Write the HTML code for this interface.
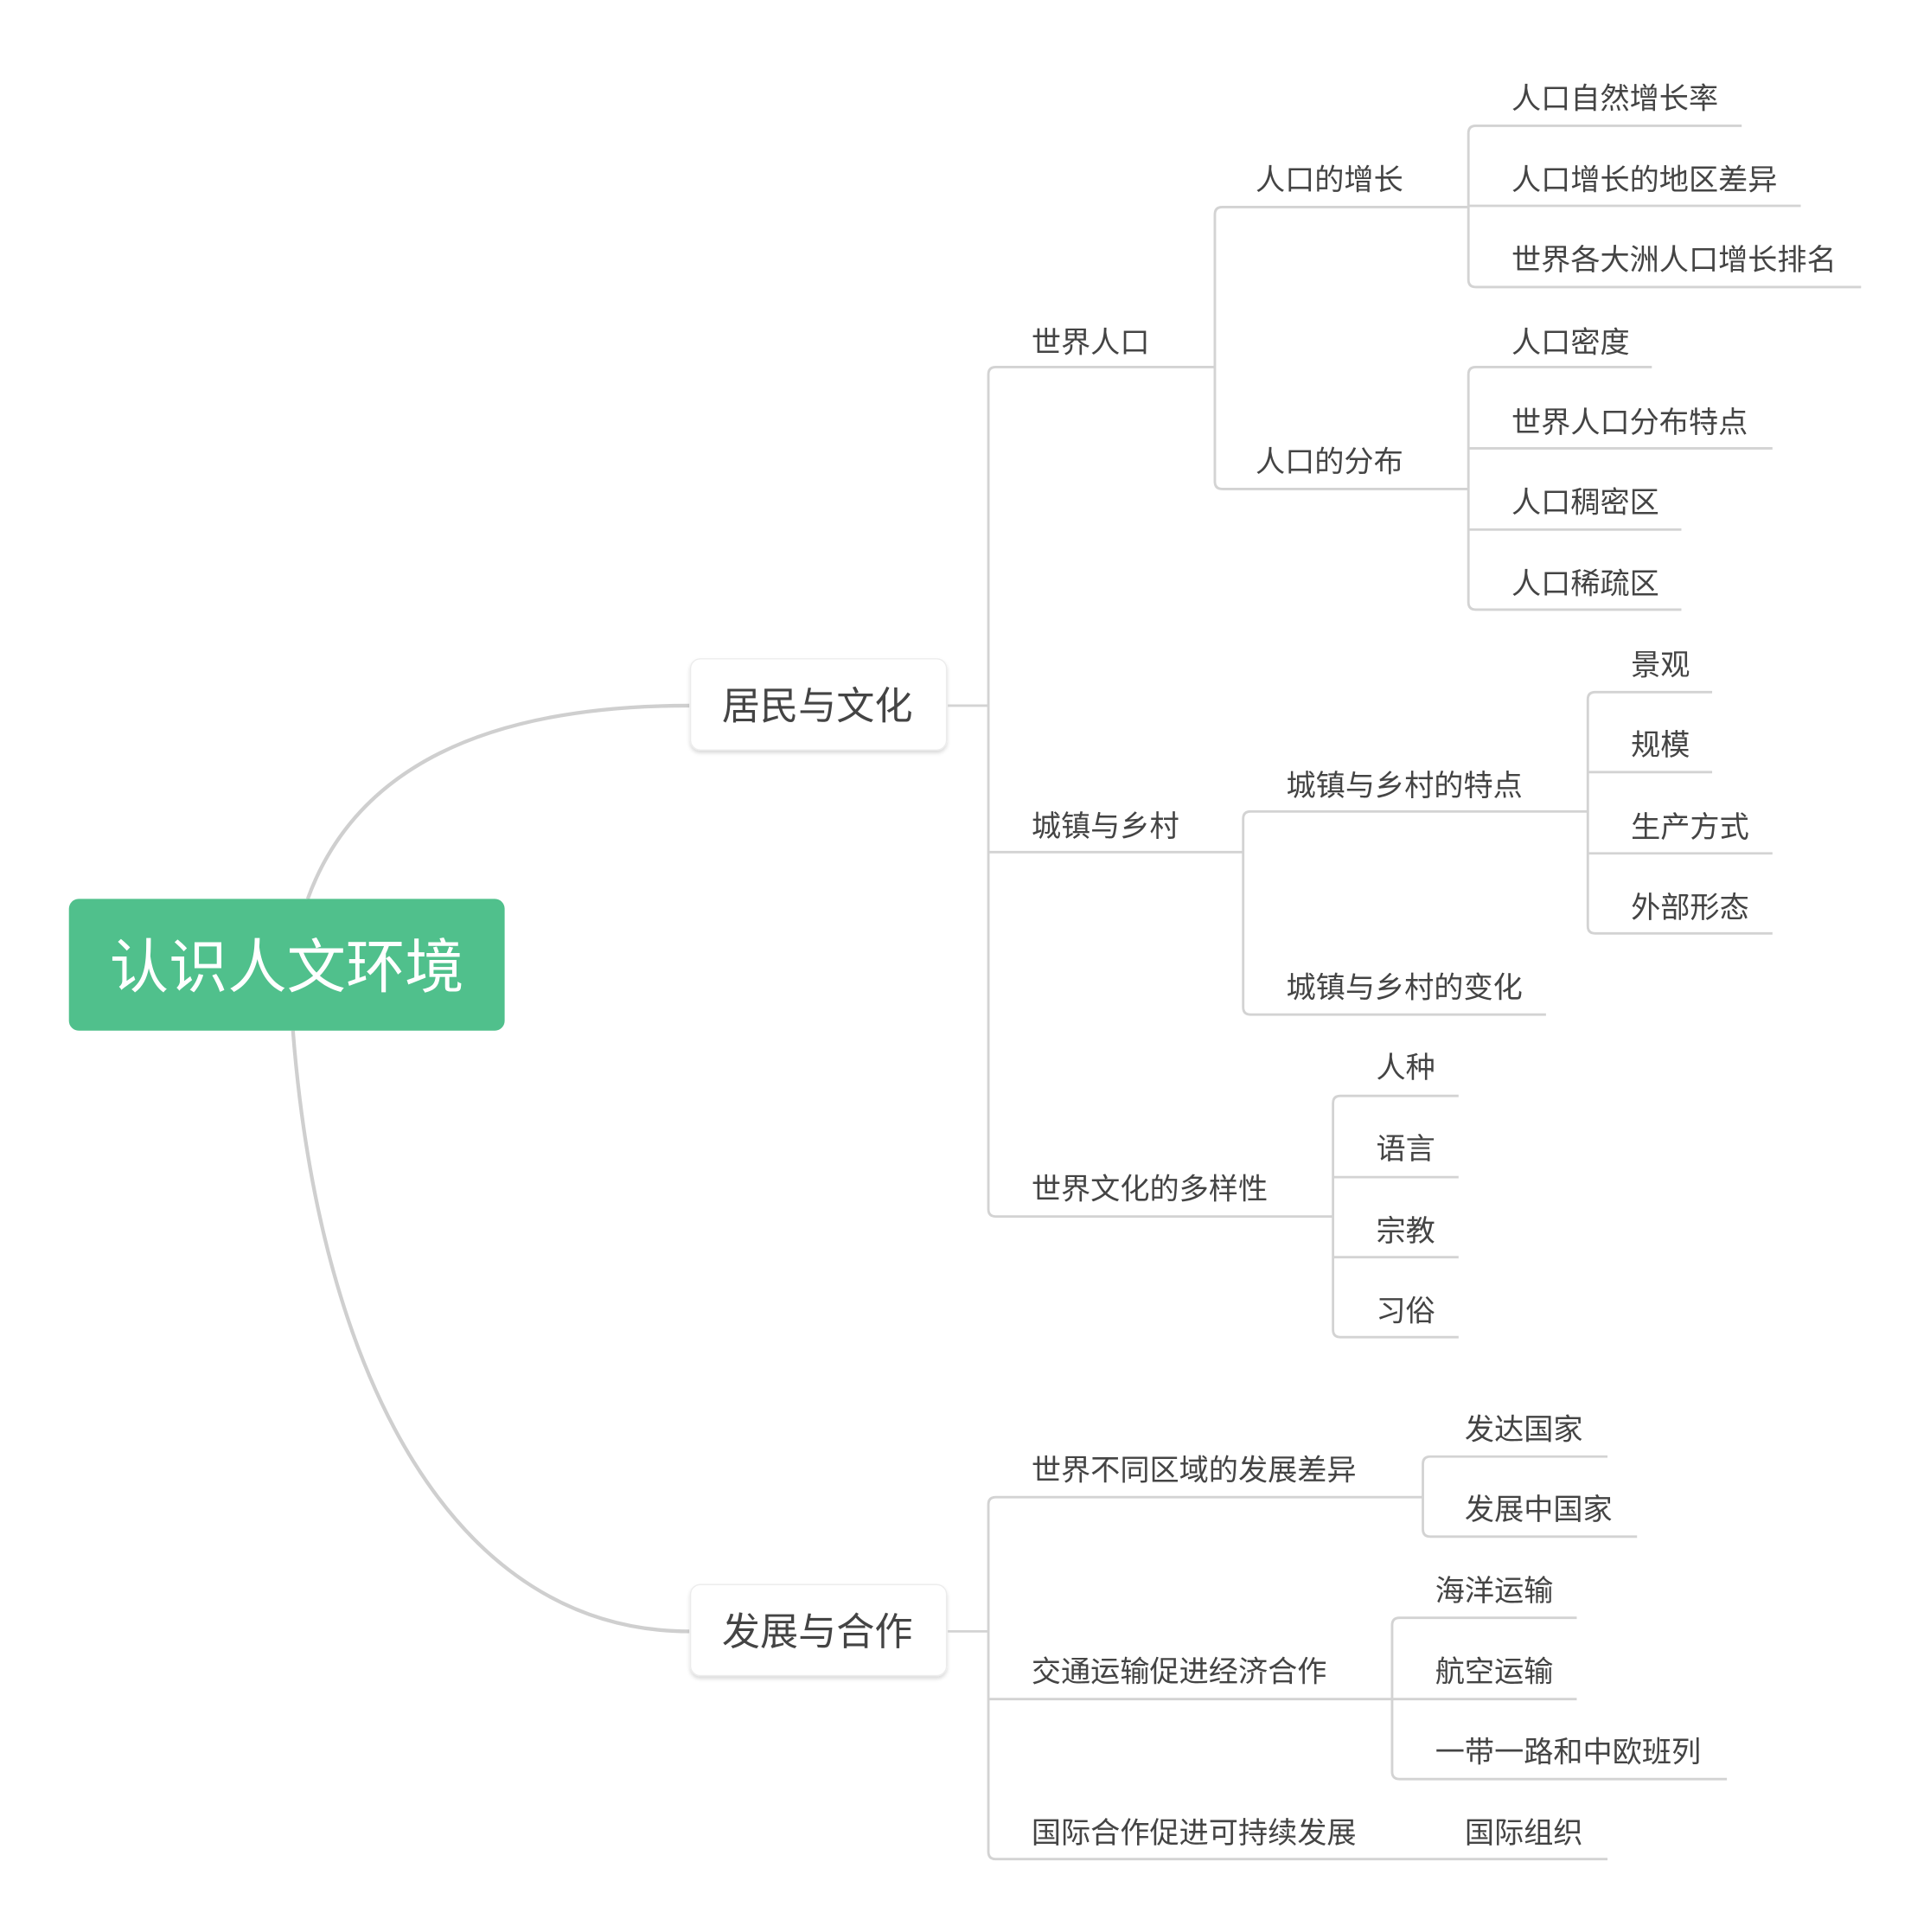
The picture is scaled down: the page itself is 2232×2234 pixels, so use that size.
<!DOCTYPE html>
<html><head><meta charset="utf-8"><style>
html,body{margin:0;padding:0;background:#fff;}
svg{display:block}
text{font-family:"Liberation Sans","Noto Sans CJK SC",sans-serif;fill:#444;font-size:24px}
</style></head><body>
<svg width="2232" height="2234" viewBox="0 0 1568 1569" xmlns="http://www.w3.org/2000/svg">
<defs><filter id="sh" x="-10%" y="-10%" width="120%" height="130%"><feDropShadow dx="0" dy="2" stdDeviation="1.5" flood-color="#000" flood-opacity="0.15"/></filter></defs>
<g fill="none" stroke="#cfcfcf" stroke-width="3">
<path d="M250,730 C290,620 400,573 560,573"/>
<path d="M238,837 C260,1120 370,1325 560,1325"/>
</g>
<rect x="56" y="730" width="354" height="107" rx="8" fill="#50c08c"/>
<text x="233" y="802" text-anchor="middle" style="fill:#fff;font-size:48px">认识人文环境</text>
<rect x="561" y="535" width="208" height="74" rx="8" fill="#fff" stroke="#ececec" filter="url(#sh)"/>
<text x="664" y="584" text-anchor="middle" style="font-size:31px">居民与文化</text>
<rect x="561" y="1287" width="208" height="74" rx="8" fill="#fff" stroke="#ececec" filter="url(#sh)"/>
<text x="664" y="1336" text-anchor="middle" style="font-size:31px">发展与合作</text>
<g fill="none" stroke="#d3d3d3" stroke-width="2">
<path d="M770,573 H803"/>
<path d="M987,298 H809 Q803,298 803,304 V982 Q803,988 809,988 H1083"/>
<path d="M803,692 H1010"/>
<path d="M1193,168 H993 Q987,168 987,174 V391 Q987,397 993,397 H1193"/>
<path d="M1415,102 H1199 Q1193,102 1193,108 V227 Q1193,233 1199,233 H1512"/>
<path d="M1193,167 H1463"/>
<path d="M1342,298 H1199 Q1193,298 1193,304 V489 Q1193,495 1199,495 H1366"/>
<path d="M1193,364 H1440"/><path d="M1193,430 H1366"/>
<path d="M1290,659 H1016 Q1010,659 1010,665 V818 Q1010,824 1016,824 H1256"/>
<path d="M1391,562 H1296 Q1290,562 1290,568 V752 Q1290,758 1296,758 H1440"/>
<path d="M1290,627 H1391"/><path d="M1290,693 H1440"/>
<path d="M1185,890 H1089 Q1083,890 1083,896 V1080 Q1083,1086 1089,1086 H1185"/>
<path d="M1083,956 H1185"/><path d="M1083,1021 H1185"/>
<path d="M770,1325 H803"/>
<path d="M1156,1216 H809 Q803,1216 803,1222 V1504 Q803,1510 809,1510 H1306"/>
<path d="M803,1380 H1131"/>
<path d="M1306,1183 H1162 Q1156,1183 1156,1189 V1242 Q1156,1248 1162,1248 H1330"/>
<path d="M1281,1314 H1137 Q1131,1314 1131,1320 V1439 Q1131,1445 1137,1445 H1403"/>
<path d="M1131,1380 H1281"/>
</g>
<text x="838" y="286">世界人口</text>
<text x="838" y="679">城镇与乡村</text>
<text x="838" y="974">世界文化的多样性</text>
<text x="1020" y="154">人口的增长</text>
<text x="1020" y="383">人口的分布</text>
<text x="1228" y="88">人口自然增长率</text>
<text x="1228" y="154">人口增长的地区差异</text>
<text x="1228" y="219">世界各大洲人口增长排名</text>
<text x="1228" y="286">人口密度</text>
<text x="1228" y="351">世界人口分布特点</text>
<text x="1228" y="416">人口稠密区</text>
<text x="1228" y="482">人口稀疏区</text>
<text x="1045" y="646">城镇与乡村的特点</text>
<text x="1045" y="810">城镇与乡村的变化</text>
<text x="1325" y="548">景观</text>
<text x="1325" y="613">规模</text>
<text x="1325" y="680">生产方式</text>
<text x="1325" y="745">外部形态</text>
<text x="1118" y="875">人种</text>
<text x="1118" y="941">语言</text>
<text x="1118" y="1008">宗教</text>
<text x="1118" y="1073">习俗</text>
<text x="838" y="1202">世界不同区域的发展差异</text>
<text x="838" y="1366">交通运输促进经济合作</text>
<text x="838" y="1497">国际合作促进可持续发展</text>
<text x="1190" y="1169">发达国家</text>
<text x="1190" y="1234">发展中国家</text>
<text x="1166" y="1300">海洋运输</text>
<text x="1166" y="1366">航空运输</text>
<text x="1166" y="1431">一带一路和中欧班列</text>
<text x="1190" y="1497">国际组织</text>
</svg>
</body></html>
